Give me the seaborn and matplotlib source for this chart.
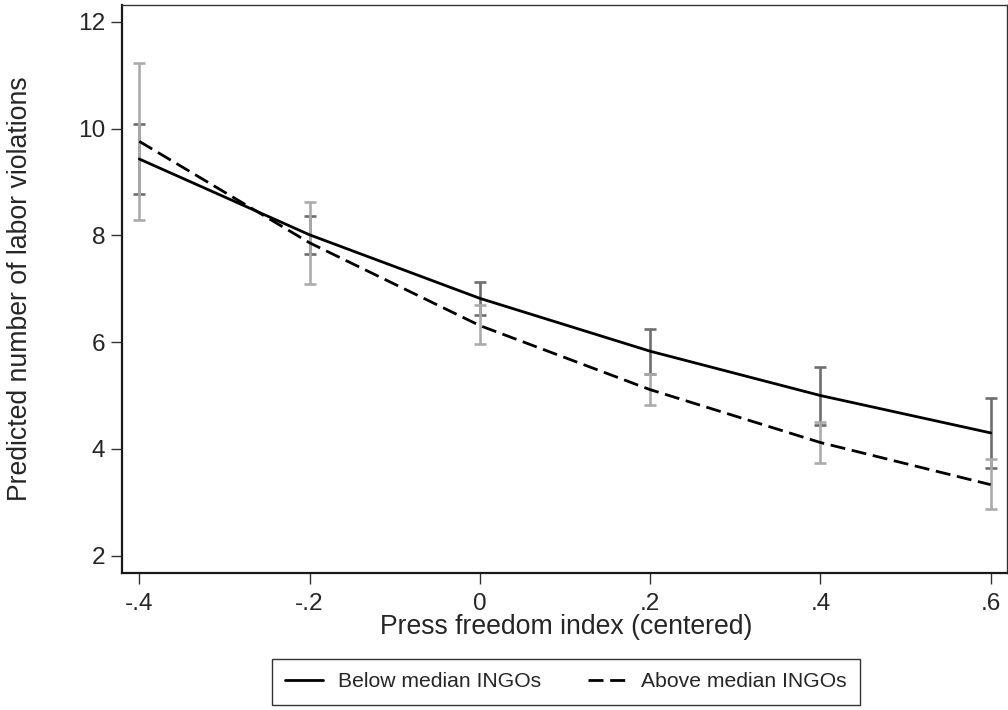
import numpy as np
import pandas as pd
import matplotlib
matplotlib.use("Agg")
import matplotlib.pyplot as plt
import seaborn as sns
from matplotlib.lines import Line2D

# ---- data ----
press = [-0.4, -0.2, 0.0, 0.2, 0.4, 0.6]
below = [9.43, 8.01, 6.82, 5.83, 5.00, 4.30]
below_lo = [8.78, 7.65, 6.51, 5.41, 4.45, 3.64]
below_hi = [10.08, 8.37, 7.13, 6.24, 5.54, 4.96]
above = [9.76, 7.86, 6.31, 5.11, 4.12, 3.33]
above_lo = [8.29, 7.08, 5.96, 4.82, 3.74, 2.87]
above_hi = [11.22, 8.62, 6.69, 5.41, 4.51, 3.81]
groups = ["Below median INGOs", "Above median INGOs"]
xticks = [-0.4, -0.2, 0.0, 0.2, 0.4, 0.6]
xticklabels = ["-.4", "-.2", "0", ".2", ".4", ".6"]
yticks = [2, 4, 6, 8, 10, 12]

sns.set_theme(style="white")
plt.rcParams["font.family"] = ["Liberation Sans", "DejaVu Sans"]

df = pd.DataFrame({
    "x": press + press,
    "y": below + above,
    "lo": below_lo + above_lo,
    "hi": below_hi + above_hi,
    "group": [groups[0]] * len(press) + [groups[1]] * len(press),
})

fig = plt.figure(figsize=(10.08, 7.10), dpi=100)
ax = fig.add_axes([0.1207, 0.1925, 0.9987 - 0.1207, 0.9934 - 0.1925])

ci_colors = {groups[0]: "#6e6e6e", groups[1]: "#ababab"}
for g in groups:
    d = df[df["group"] == g]
    ax.errorbar(d["x"], d["y"], yerr=[d["y"] - d["lo"], d["hi"] - d["y"]],
                fmt="none", ecolor=ci_colors[g], elinewidth=1.9,
                capsize=4.6, capthick=1.9, zorder=2)

lw = 2.0
dash = (5.4, 2.4)
sns.lineplot(data=df, x="x", y="y", style="group", style_order=groups,
             dashes={groups[0]: "", groups[1]: dash}, color="black",
             linewidth=lw, legend=False, ax=ax, zorder=3, sort=True)

ax.set_xlim(-0.4207, 0.6188)
ax.set_ylim(1.67, 12.32)
ax.set_xticks(xticks)
ax.set_xticklabels(xticklabels)
ax.set_yticks(yticks)
ax.tick_params(axis="both", which="major", direction="out", length=7.7,
               width=1.0, color="#333333", labelsize=17.6, pad=4.1,
               bottom=True, left=True)
ax.tick_params(axis="x", pad=6.5)

for side in ["left", "bottom"]:
    ax.spines[side].set_color("#1a1a1a")
    ax.spines[side].set_linewidth(1.6)
for side in ["top", "right"]:
    ax.spines[side].set_color("#333333")
    ax.spines[side].set_linewidth(1.0)

ax.set_xlabel("Press freedom index (centered)", fontsize=19.2, va="top")
ax.set_ylabel("Predicted number of labor violations", fontsize=19.2)
ax.xaxis.set_label_coords(0.502, -0.0716)
ax.yaxis.set_label_coords(-0.100, 0.5)
ax.grid(False)

handles = [Line2D([], [], color="black", lw=lw),
           Line2D([], [], color="black", lw=lw, ls=(0, dash))]
leg = fig.legend(handles, groups, loc="upper center",
                 bbox_to_anchor=(0.5615, 0.0718), ncol=2, fontsize=15.2,
                 frameon=True, fancybox=False, borderaxespad=0,
                 handlelength=1.8, handletextpad=0.71, columnspacing=2.2,
                 borderpad=0.63)
leg.get_frame().set_edgecolor("black")
leg.get_frame().set_linewidth(1.0)

fig.savefig("out.png", dpi=100)
